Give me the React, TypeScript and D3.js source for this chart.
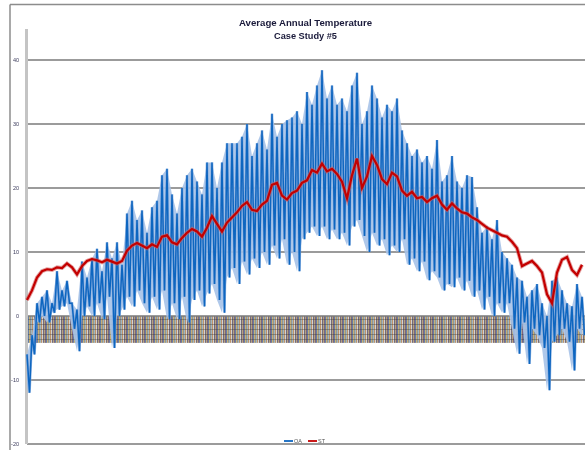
import React, { useEffect, useRef } from "react";
import * as d3 from "d3";

// OA = outdoor air (blue), ST = supply temperature (red), ~5px per sample
const oaHigh = [
  -6, -3, 2, 3, 4, 2, 7, 4, 5.5, 2, 1, 8.5, 6, 9, 10.5, 7, 11.5, 9, 11.5, 8,
  16, 18, 15, 16.5, 13, 17, 18, 22, 23, 19, 16, 20, 22, 23, 21, 19, 24, 24, 20, 24,
  27, 27, 27, 28, 30, 25, 27, 29, 26, 31.6, 28, 30, 30.6, 31, 32, 30, 35, 33, 36, 38.4,
  34, 36, 33, 34, 32, 36, 38, 30, 32, 36, 34, 31, 33, 32, 34, 29, 27, 25, 26, 24,
  25, 23, 27.5, 21, 22, 25, 21, 20, 22, 21.7, 17, 13, 14, 12, 15, 10, 9, 8, 6, 5.5,
  3, 4, 5, 2, 0, 5.5, 6, 4, 2, 1.5, 5, 3,
];
const oaLow = [
  -12, -6, -1, 0, -1, 0.5, 1, 1.5, 2, -2, -5.5, 0, 1.5, 0, 2, -0.5, 3, -5, 0, 1,
  3, 1.5, 4, 2, 0.5, 3, 1, 4, -0.5, 2, -0.5, 3, -1, 2.5, 4, 1.5, 3.5, 5, 2.5, 0.5,
  6, 7.5, 5, 8.5, 6.5, 9, 7.5, 10, 8, 11, 9, 12, 8, 10, 7, 12, 13, 14, 12.5, 14,
  12, 13.5, 12, 13, 11, 14, 15, 12.5, 10, 13, 11, 12, 9.5, 11, 10, 12, 8, 9, 7, 8.5,
  5.6, 7, 6, 4, 5, 4.5, 6, 4, 5.5, 3, 4, 1, 3, 0, 2, 0.5, 2, -2, -5.9, -1,
  -7.5, -2, -3, -5, -11.6, -4, -3, -2, -4, -8.5, -2, -3,
];
const st = [
  2.5, 4, 6, 7, 7.3, 7.2, 7.6, 7.5, 8.2, 7.6, 6.5, 7.8, 8.6, 8.9, 8.7, 8.4, 8.8, 8.5, 8.2, 8.6,
  10.2, 11, 11.4, 11, 10.6, 11.2, 10.8, 12.4, 12.6, 11.5, 11.2, 12.2, 13, 13.6, 13.2, 12.4, 13.8, 15.6, 14.4, 13.2,
  14.6, 15.4, 16.2, 17.2, 17.8, 16.6, 16.4, 17.4, 18, 20.5, 20.8, 18.8, 18.2, 19.2, 19.6, 20.8, 21.2, 22.8, 22.4, 23.8,
  22.6, 23, 22.2, 21, 18.4, 22, 24.6, 20, 21.8, 25, 23.6, 21.4, 20.6, 22.4, 21.8, 19.6, 18.8, 19.4, 18.4, 18.6,
  17.8, 18.4, 18.8, 17.4, 16.6, 17.6, 16.8, 16.2, 16, 15.4, 15, 14.4, 13.8, 13.4, 13, 12.6, 12.4, 11.6, 10.6, 7.8,
  8.2, 8.6, 7.8, 6.8, 3.4, 2, 6.8, 8.8, 9.2, 7.2, 6.4, 8,
];

const yTicks = [40, 30, 20, 10, 0, -10, -20];
const freezeBand = [0, -4.2];
const bandColors = ["#6e4a74", "#4a70a8", "#d4b466", "#8e8e8e", "#9cc0d0", "#c88a58", "#e8e8e8", "#5e5270", "#b8a474"];

const width = 585;
const height = 450;
const plot = { left: 27, right: 582, top: 60, bottom: 444 };

export default function App() {
  const ref = useRef<SVGSVGElement>(null);

  useEffect(() => {
    const svg = d3.select(ref.current);
    svg.selectAll("*").remove();

    const x = d3.scaleLinear().domain([0, st.length - 1]).range([plot.left, plot.right]);
    const y = d3.scaleLinear().domain([-20, 40]).range([plot.bottom, plot.top]);

    const defs = svg.append("defs");
    defs.append("filter").attr("id", "soft")
      .append("feGaussianBlur").attr("stdDeviation", 0.45);
    const pat = defs.append("pattern")
      .attr("id", "hatch")
      .attr("patternUnits", "userSpaceOnUse")
      .attr("width", bandColors.length)
      .attr("height", 5);
    pat.append("rect").attr("width", bandColors.length).attr("height", 5).attr("fill", "#a8a498");
    pat.selectAll("rect.s")
      .data(bandColors)
      .join("rect")
      .attr("class", "s")
      .attr("x", (d, i) => i)
      .attr("width", 1)
      .attr("height", 5)
      .attr("fill", (d) => d)
      .attr("opacity", 0.7);
    pat.append("rect").attr("y", 4).attr("width", bandColors.length).attr("height", 1)
      .attr("fill", "rgba(50,50,50,0.35)");

    const g = svg.append("g").attr("filter", "url(#soft)");

    // outer frame
    g.append("line").attr("x1", 10).attr("x2", width).attr("y1", 4.5).attr("y2", 4.5)
      .attr("stroke", "#8c8c8c").attr("stroke-width", 1.5);
    g.append("line").attr("x1", 10).attr("x2", 10).attr("y1", 4.5).attr("y2", height)
      .attr("stroke", "#8c8c8c").attr("stroke-width", 1.5);

    // below-freezing band
    g.append("rect")
      .attr("x", plot.left)
      .attr("y", y(freezeBand[0]))
      .attr("width", width - plot.left)
      .attr("height", y(freezeBand[1]) - y(freezeBand[0]))
      .attr("fill", "url(#hatch)");

    // gridlines
    g.append("g")
      .selectAll("line")
      .data(yTicks)
      .join("line")
      .attr("x1", plot.left)
      .attr("x2", width)
      .attr("y1", (d) => y(d))
      .attr("y2", (d) => y(d))
      .attr("stroke", "#7a7a7a")
      .attr("stroke-width", 1.4);

    // y axis
    g.append("line").attr("x1", plot.left - 0.5).attr("x2", plot.left - 0.5)
      .attr("y1", 29).attr("y2", plot.bottom)
      .attr("stroke", "#c4c4c4").attr("stroke-width", 3);
    g.append("g")
      .selectAll("text")
      .data(yTicks)
      .join("text")
      .attr("x", 19)
      .attr("y", (d) => y(d) + 2)
      .attr("text-anchor", "end")
      .attr("font-family", "Liberation Sans, Arial, sans-serif")
      .attr("font-size", 5.5)
      .attr("fill", "#3a3a5a")
      .text((d) => d);

    // OA: light envelope of the daily swing, then a zigzag between highs and lows
    const envelope = d3.area<number>()
      .x((d, i) => x(i))
      .y0((d, i) => y(oaLow[i]))
      .y1((d) => y(d));
    g.append("path").attr("d", envelope(oaHigh)).attr("fill", "#a6c2e8").attr("opacity", 0.9);

    const oaPts: [number, number][] = [];
    oaHigh.forEach((h, i) => {
      oaPts.push([i, h]);
      oaPts.push([i + 0.5, oaLow[i]]);
    });
    const zig = d3.line<[number, number]>().x((d) => x(d[0])).y((d) => y(d[1]));
    g.append("path").attr("d", zig(oaPts)).attr("fill", "none")
      .attr("stroke", "#7aa6dc").attr("stroke-width", 2.6).attr("opacity", 0.8);
    g.append("path").attr("d", zig(oaPts)).attr("fill", "none")
      .attr("stroke", "#1066c0").attr("stroke-width", 1.5);

    // ST
    const stLine = d3.line<number>().x((d, i) => x(i)).y((d) => y(d));
    g.append("path").attr("d", stLine(st)).attr("fill", "none")
      .attr("stroke", "#d06060").attr("stroke-width", 4).attr("opacity", 0.6);
    g.append("path").attr("d", stLine(st)).attr("fill", "none")
      .attr("stroke", "#c40000").attr("stroke-width", 2.2);

    // title
    g.append("text").attr("x", 305.5).attr("y", 26).attr("text-anchor", "middle")
      .attr("font-family", "Liberation Sans, Arial, sans-serif").attr("font-weight", "bold")
      .attr("font-size", 8.5).attr("fill", "#1a1a3a")
      .attr("textLength", 133).attr("lengthAdjust", "spacingAndGlyphs")
      .text("Average Annual Temperature");
    g.append("text").attr("x", 305.5).attr("y", 38.5).attr("text-anchor", "middle")
      .attr("font-family", "Liberation Sans, Arial, sans-serif").attr("font-weight", "bold")
      .attr("font-size", 8.5).attr("fill", "#1a1a3a")
      .attr("textLength", 63).attr("lengthAdjust", "spacingAndGlyphs")
      .text("Case Study #5");

    // legend
    const legend = [
      { name: "OA", color: "#1468c0", x: 284 },
      { name: "ST", color: "#c40000", x: 308 },
    ];
    const lg = g.append("g").selectAll("g").data(legend).join("g")
      .attr("transform", (d) => `translate(${d.x},441)`);
    lg.append("line").attr("x1", 0).attr("x2", 9).attr("stroke", (d) => d.color).attr("stroke-width", 1.8);
    lg.append("text").attr("x", 10).attr("y", 2)
      .attr("font-family", "Liberation Sans, Arial, sans-serif").attr("font-size", 5.5)
      .attr("fill", "#555").text((d) => d.name);
  }, []);

  return (
    <svg
      ref={ref}
      width={width}
      height={height}
      style={{ position: "absolute", left: 0, top: 0, background: "#fff" }}
    />
  );
}
